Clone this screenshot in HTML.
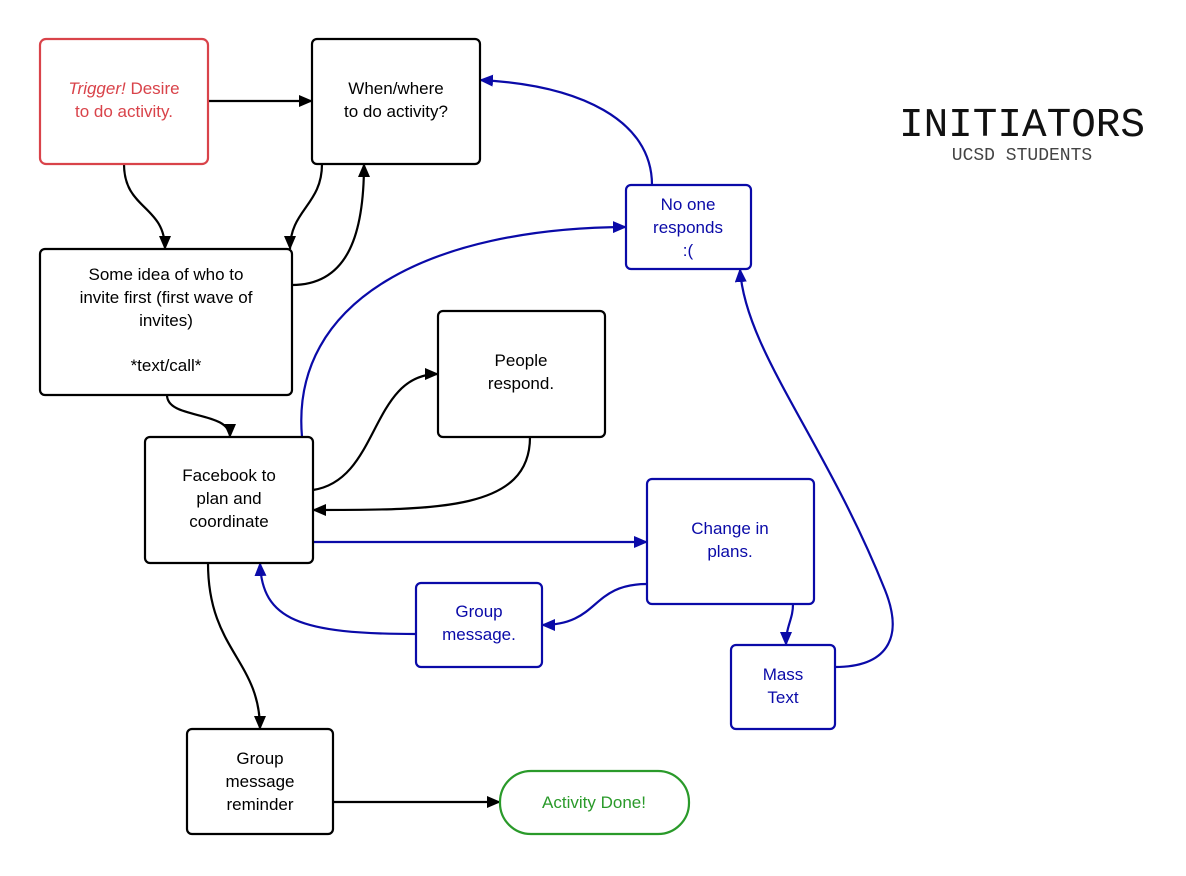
<!DOCTYPE html>
<html><head><style>
body{margin:0;background:#fff;}
svg text{font-family:"Liberation Sans",sans-serif;font-size:17px;text-anchor:middle;}
</style></head><body>
<svg width="1186" height="871" viewBox="0 0 1186 871" xmlns="http://www.w3.org/2000/svg">
<defs>
<marker id="ak" markerWidth="14" markerHeight="12" refX="13" refY="6" orient="auto" markerUnits="userSpaceOnUse" viewBox="0 0 14 12"><path d="M0,0 L14,6 L0,12 z" fill="#000"/></marker>
<marker id="ab" markerWidth="14" markerHeight="12" refX="13" refY="6" orient="auto" markerUnits="userSpaceOnUse" viewBox="0 0 14 12"><path d="M0,0 L14,6 L0,12 z" fill="#0a0aa8"/></marker>
</defs>
<g fill="none" stroke-width="2.2">
<g stroke="#000">
<path d="M208,101 L312,101" marker-end="url(#ak)"/>
<path d="M124,164 C124,210 165,205 165,249" marker-end="url(#ak)"/>
<path d="M322,164 C322,205 290,210 290,249" marker-end="url(#ak)"/>
<path d="M292,285 C350,285 364,230 364,164" marker-end="url(#ak)"/>
<path d="M167,395 C167,420 230,410 230,437" marker-end="url(#ak)"/>
<path d="M313,490 C380,480 370,374 438,374" marker-end="url(#ak)"/>
<path d="M530,437 C530,510 440,510 313,510" marker-end="url(#ak)"/>
<path d="M208,563 C208,650 260,660 260,729" marker-end="url(#ak)"/>
<path d="M333,802 L500,802" marker-end="url(#ak)"/>
</g>
<g stroke="#0a0aa8">
<path d="M313,542 L647,542" marker-end="url(#ab)"/>
<path d="M302,437 C290,300 430,228 626,227" marker-end="url(#ab)"/>
<path d="M652,185 C652,120 580,85 480,80" marker-end="url(#ab)"/>
<path d="M793,604 C793,620 786,625 786,645" marker-end="url(#ab)"/>
<path d="M647,584 C590,584 600,625 542,625" marker-end="url(#ab)"/>
<path d="M416,634 C300,634 262,620 260,563" marker-end="url(#ab)"/>
<path d="M835,667 C885,667 905,640 885,590 C825,440 745,350 740,269" marker-end="url(#ab)"/>
</g>
<rect x="40" y="39" width="168" height="125" rx="6" stroke="#d9434a"/>
<g stroke="#000">
<rect x="312" y="39" width="168" height="125" rx="5"/>
<rect x="40" y="249" width="252" height="146" rx="5"/>
<rect x="145" y="437" width="168" height="126" rx="5"/>
<rect x="438" y="311" width="167" height="126" rx="5"/>
<rect x="187" y="729" width="146" height="105" rx="5"/>
</g>
<g stroke="#0a0aa8">
<rect x="626" y="185" width="125" height="84" rx="5"/>
<rect x="647" y="479" width="167" height="125" rx="5"/>
<rect x="416" y="583" width="126" height="84" rx="5"/>
<rect x="731" y="645" width="104" height="84" rx="5"/>
</g>
<rect x="500" y="771" width="189" height="63" rx="31" stroke="#2a9a2a"/>
</g>
<text x="124" y="94" fill="#d9434a"><tspan font-style="italic">Trigger!</tspan> Desire</text>
<text x="124" y="117" fill="#d9434a">to do activity.</text>
<text x="396" y="94">When/where</text>
<text x="396" y="117">to do activity?</text>
<text x="166" y="280">Some idea of who to</text>
<text x="166" y="303">invite first (first wave of</text>
<text x="166" y="326">invites)</text>
<text x="166" y="371">*text/call*</text>
<text x="229" y="481">Facebook to</text>
<text x="229" y="504">plan and</text>
<text x="229" y="527">coordinate</text>
<text x="521" y="366">People</text>
<text x="521" y="389">respond.</text>
<g fill="#0a0aa8">
<text x="688" y="210">No one</text>
<text x="688" y="233">responds</text>
<text x="688" y="256">:(</text>
<text x="730" y="534">Change in</text>
<text x="730" y="557">plans.</text>
<text x="479" y="617">Group</text>
<text x="479" y="640">message.</text>
<text x="783" y="680">Mass</text>
<text x="783" y="703">Text</text>
</g>
<text x="260" y="764">Group</text>
<text x="260" y="787">message</text>
<text x="260" y="810">reminder</text>
<text x="594" y="808" fill="#2a9a2a">Activity Done!</text>
<text x="1022" y="136" style="font-family:'Liberation Mono',monospace;font-size:41px" fill="#111">INITIATORS</text>
<text x="1022" y="160" style="font-family:'Liberation Mono',monospace;font-size:18px" fill="#444">UCSD STUDENTS</text>
</svg>
</body></html>
